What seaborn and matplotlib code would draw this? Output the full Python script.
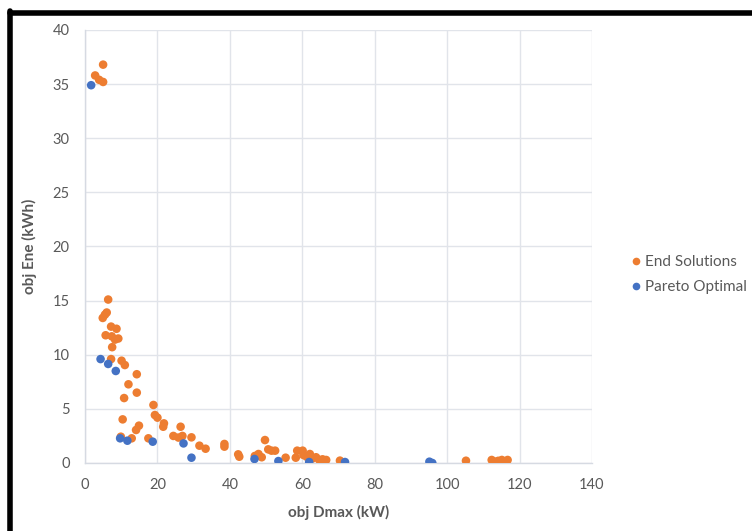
import matplotlib
matplotlib.use("Agg")
import matplotlib.pyplot as plt
import pandas as pd
import seaborn as sns
from matplotlib.lines import Line2D

# 데이터
end_x = [5.0, 2.8, 3.9, 5.0, 6.4, 6.0, 5.5, 4.9, 7.2, 8.7, 5.7, 7.4, 8.3, 9.2, 7.5,
         7.2, 10.1, 11.0, 14.3, 12.0, 14.3, 10.8, 18.9, 19.3, 20.0, 10.4, 21.8, 21.6,
         14.9, 14.1, 26.4, 24.4, 25.8, 26.9, 29.4, 17.5, 9.9, 12.9, 31.6, 33.3, 38.5,
         38.5, 42.3, 42.6, 49.7, 50.6, 51.5, 52.5, 47.9, 48.8, 46.9, 55.4, 58.2, 58.6,
         60.1, 60.3, 61.2, 62.1, 62.9, 63.8, 64.7, 65.6, 66.6, 70.4, 105.2, 112.3,
         113.2, 114.1, 115.1, 116.7]
end_y = [36.8, 35.8, 35.4, 35.2, 15.1, 13.9, 13.7, 13.4, 12.6, 12.4, 11.8, 11.7, 11.4,
         11.5, 10.7, 9.6, 9.45, 9.05, 8.2, 7.27, 6.5, 6.0, 5.36, 4.43, 4.19, 4.03, 3.66,
         3.35, 3.45, 3.05, 3.35, 2.5, 2.35, 2.5, 2.37, 2.28, 2.43, 2.28, 1.6, 1.32, 1.76,
         1.51, 0.80, 0.58, 2.12, 1.26, 1.14, 1.14, 0.83, 0.53, 0.65, 0.49, 0.49, 1.14,
         1.14, 0.74, 0.58, 0.83, 0.43, 0.53, 0.28, 0.34, 0.28, 0.22, 0.21, 0.28, 0.12,
         0.2, 0.28, 0.28]

pareto_x = [1.7, 4.3, 6.4, 8.5, 9.7, 11.7, 18.7, 27.2, 29.4, 46.8, 53.4, 61.9, 71.8,
            95.1, 95.9]
pareto_y = [34.9, 9.6, 9.15, 8.5, 2.28, 2.06, 1.97, 1.81, 0.49, 0.37, 0.18, 0.09, 0.09,
            0.12, 0.0]

series_names = ["End Solutions", "Pareto Optimal"]
colors = {"End Solutions": "#ED7D31", "Pareto Optimal": "#4472C4"}

df = pd.DataFrame({
    "obj Dmax (kW)": end_x + pareto_x,
    "obj Ene (kWh)": end_y + pareto_y,
    "series": [series_names[0]] * len(end_x) + [series_names[1]] * len(pareto_x),
})

sns.set_theme(style="white")
plt.rcParams["font.family"] = ["Lato", "DejaVu Sans"]
text_color = "#595959"

fig = plt.figure(figsize=(7.52, 5.31), dpi=100)
ax = fig.add_axes([85 / 752, 1 - 463 / 531, 507 / 752, 433 / 531])

sns.scatterplot(data=df, x="obj Dmax (kW)", y="obj Ene (kWh)", hue="series",
                hue_order=series_names, palette=colors, s=38, linewidth=0,
                ax=ax, legend=False, zorder=3)

ax.set_xlim(0, 140)
ax.set_ylim(0, 40)
ax.set_xticks(range(0, 141, 20))
ax.set_yticks(range(0, 41, 5))
ax.grid(True, color="#e1e4ea", linewidth=1)
ax.set_axisbelow(True)
for side in ["top", "right"]:
    ax.spines[side].set_visible(False)
for side in ["left", "bottom"]:
    ax.spines[side].set_color("#d6dae2")
    ax.spines[side].set_linewidth(1)
ax.tick_params(axis="both", length=0, pad=11, labelsize=10.5, labelcolor=text_color)

ax.set_xlabel("obj Dmax (kW)", fontsize=11, fontweight="bold", color=text_color,
              labelpad=9)
ax.set_ylabel("obj Ene (kWh)", fontsize=11, fontweight="bold", color=text_color,
              labelpad=11)

# 범례
handles = [Line2D([0], [0], marker="o", linestyle="", markersize=5.5,
                  markerfacecolor=colors[n], markeredgewidth=0) for n in series_names]
leg = ax.legend(handles, series_names, loc="center left",
                bbox_to_anchor=(1.045, 0.435), frameon=False, fontsize=11,
                handletextpad=0.1, labelspacing=0.7, handlelength=1.0)
for t in leg.get_texts():
    t.set_color(text_color)

# 스크린샷의 검은 테두리 (위, 왼쪽)
fig.add_artist(Line2D([9.5 / 752, 1.0], [1 - 12.5 / 531, 1 - 12.5 / 531],
                      color="black", linewidth=4, transform=fig.transFigure))
fig.add_artist(Line2D([9.5 / 752, 9.5 / 752], [0.0, 1 - 10.5 / 531],
                      color="black", linewidth=4, transform=fig.transFigure))

fig.savefig("out.png", dpi=100)
